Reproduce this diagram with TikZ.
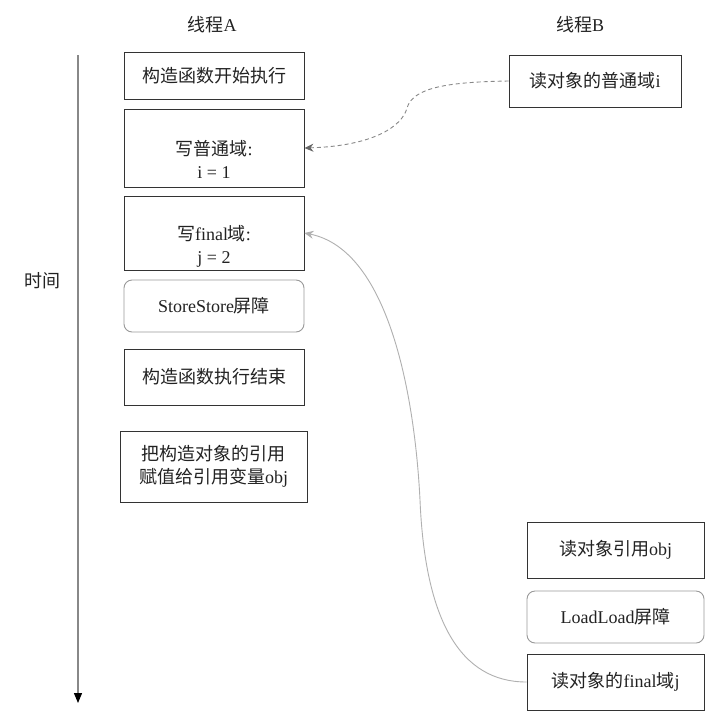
\documentclass[tikz,border=0pt]{standalone}
\usepackage{fontspec}
\setmainfont{Liberation Serif}
\newfontfamily\cjk{Noto Sans CJK SC}
\usetikzlibrary{arrows.meta}
\newcommand\zh[1]{{\cjk #1}}
\definecolor{boxc}{HTML}{333333}
\definecolor{rboxc}{HTML}{999999}
\definecolor{txtc}{HTML}{222222}
\definecolor{dashc}{HTML}{888888}
\definecolor{dashtip}{HTML}{666666}
\definecolor{curvec}{HTML}{B0B0B0}
\definecolor{timec}{HTML}{888888}
\begin{document}
\begin{tikzpicture}[x=1pt,y=-1pt,
  lbl/.style={font=\fontsize{18}{23}\selectfont, text=txtc, align=center, inner sep=0pt},
  box/.style={draw=boxc, line width=0.9pt, rectangle, inner sep=0pt},
  rbox/.style={draw=rboxc, line width=0.9pt, rounded corners=8pt, inner sep=0pt},
  ]
\useasboundingbox (0,0) rectangle (722,720);
\fill[white] (0,0) rectangle (722,720);

% headers
\node[lbl] (ha) at (212,25) {\zh{线程}A};
\node[lbl] (hb) at (580,25) {\zh{线程}B};

% time axis
\coordinate (t1) at (78,55);
\coordinate (t2) at (78,703);
\draw[timec, line width=1.2pt, -{Triangle[length=10pt,width=8pt,color=black,fill=black]}] (t1) -- (t2);
\node[lbl] (time) at (42,281) {\zh{时间}};

% thread A
\node[box, lbl, minimum width=180pt, minimum height=47pt] (a1) at (214,75.5) {\zh{构造函数开始执行}};
\node[box, minimum width=180pt, minimum height=78pt] (a2) at (214,148) {};
\node[lbl] (a2t) at (214,159) {\zh{写普通域}:\\i = 1};
\node[box, minimum width=180pt, minimum height=74pt] (a3) at (214,233) {};
\node[lbl] (a3t) at (214,246) {\zh{写}final\zh{域}:\\j = 2};
\node[rbox, lbl, minimum width=180pt, minimum height=52pt] (a4) at (214,306) {StoreStore\zh{屏障}};
\node[box, lbl, minimum width=180pt, minimum height=56pt] (a5) at (214,377) {\zh{构造函数执行结束}};
\node[box, lbl, minimum width=187pt, minimum height=71pt] (a6) at (213.5,466.5) {\zh{把构造对象的引用}\\\zh{赋值给引用变量}obj};

% thread B
\node[box, lbl, minimum width=172pt, minimum height=52pt] (b1) at (595,81) {\zh{读对象的普通域}i};
\node[box, lbl, minimum width=177pt, minimum height=56pt] (b2) at (615.5,550) {\zh{读对象引用}obj};
\node[rbox, lbl, minimum width=177pt, minimum height=52pt] (b3) at (615.5,617) {LoadLoad\zh{屏障}};
\node[box, lbl, minimum width=177pt, minimum height=56pt] (b4) at (615.5,682) {\zh{读对象的}final\zh{域}j};

% connectors
\draw[dashc, line width=0.9pt, dash pattern=on 4pt off 3pt,
  -{Stealth[length=9pt,width=8pt,inset=3pt,color=dashtip,fill=dashtip]}]
  (b1.west) .. controls (450,82) and (413,87) .. (407,108)
            .. controls (402,127) and (372,146) .. (a2.east);
\draw[curvec, line width=0.9pt,
  -{Stealth[length=9pt,width=8pt,inset=3pt,color=curvec,fill=curvec]}]
  (b4.west) .. controls (460,682) and (425,620) .. (420,500)
            .. controls (415,400) and (390,250) .. (a3.east);
\end{tikzpicture}
\end{document}
